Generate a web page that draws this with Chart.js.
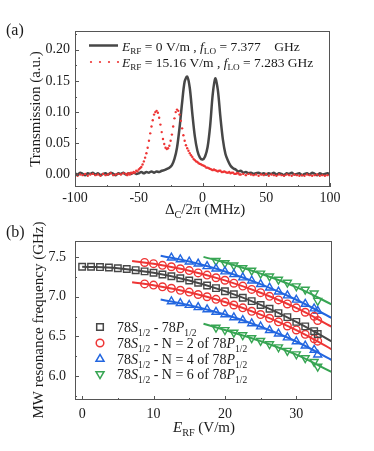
<!DOCTYPE html>
<html>
<head>
<meta charset="utf-8">
<script src="https://cdn.jsdelivr.net/npm/chart.js@4.4.1/dist/chart.umd.min.js"></script>
<style>
  html, body { margin: 0; padding: 0; background: #fff; }
  #wrap { position: relative; width: 374px; height: 451px; overflow: hidden; }
  #chartA { position: absolute; left: 0; top: 0; }
  #chartB { position: absolute; left: 0; top: 220px; }
</style>
</head>
<body>
<div id="wrap">
  <canvas id="chartA" width="374" height="220"></canvas>
  <canvas id="chartB" width="374" height="231"></canvas>
</div>
<script>
// ---- panel (a): transmission spectra ----
const detuning = [
  -100, -98, -96, -94, -92, -90, -88, -86, -84, -82,
  -80, -78, -76, -74, -72, -70, -68, -66, -64, -62,
  -60, -58, -56, -54, -52, -50, -48, -46, -44, -42,
  -40, -38, -36, -34, -32, -30, -28, -26, -24, -22,
  -20, -18, -16, -14, -12, -10, -8, -6, -4, -2,
  0, 2, 4, 6, 8, 10, 12, 14, 16, 18,
  20, 22, 24, 26, 28, 30, 32, 34, 36, 38,
  40, 42, 44, 46, 48, 50, 52, 54, 56, 58,
  60, 62, 64, 66, 68, 70, 72, 74, 76, 78,
  80, 82, 84, 86, 88, 90, 92, 94, 96, 98,
  100
];
// E_RF = 0 V/m, f_LO = 7.377 GHz
const transZeroField = [
  0.002, 0.000, 0.003, 0.001, -0.001, 0.002, 0.001, 0.003, 0.000, 0.002,
  -0.001, 0.001, 0.002, 0.000, 0.003, 0.001, -0.001, 0.002, 0.001, 0.003,
  0.000, 0.002, 0.001, 0.003, 0.001, 0.002, 0.004, 0.002, 0.004, 0.003,
  0.005, 0.003, 0.005, 0.004, 0.006, 0.007, 0.009, 0.011, 0.015, 0.025,
  0.043, 0.075, 0.115, 0.149, 0.157, 0.139, 0.098, 0.061, 0.038, 0.027,
  0.024, 0.029, 0.044, 0.078, 0.128, 0.154, 0.136, 0.093, 0.056, 0.033,
  0.022, 0.014, 0.010, 0.008, 0.005, 0.006, 0.003, 0.004, 0.002, 0.003,
  0.001, 0.002, 0.003, 0.001, 0.002, 0.000, 0.002, 0.001, 0.003, 0.000,
  0.002, 0.001, -0.001, 0.002, 0.001, 0.003, 0.000, 0.001, 0.002, -0.001,
  0.001, 0.002, 0.000, 0.003, 0.001, -0.001, 0.002, 0.000, 0.001, 0.002,
  0.000
];
// E_RF = 15.16 V/m, f_LO = 7.283 GHz (sampled more finely across the peaks)
const detuningRed = [
  -100, -98, -96, -94, -92, -90, -88, -86, -84, -82,
  -80, -78, -76, -74, -72, -70, -68, -66, -64, -62,
  -60, -59, -58, -57, -56, -55, -54, -53, -52, -51,
  -50, -49, -48, -47, -46, -45, -44, -43, -42, -41,
  -40, -39, -38, -37, -36, -35, -34, -33, -32, -31,
  -30, -29, -28, -27, -26, -25, -24, -23, -22, -21,
  -20, -19, -18, -17, -16, -15, -14, -13, -12, -11,
  -10, -9, -8, -7, -6, -5, -4, -3, -2, -1,
  0, 1, 2, 3, 4, 5, 6, 7, 8, 9,
  10, 11, 12, 13, 14, 15, 16, 17, 18, 19,
  20, 21, 22, 23, 24, 25, 26, 27, 28, 29, 30,
  32, 34, 36, 38, 40, 42, 44, 46, 48, 50,
  52, 54, 56, 58, 60, 62, 64, 66, 68, 70,
  72, 74, 76, 78, 80, 82, 84, 86, 88, 90,
  92, 94, 96, 98, 100
];
const transWithField = [
  0.001, -0.002, 0.000, -0.001, 0.001, -0.002, 0.000, 0.001, -0.001, 0.000,
  -0.002, 0.001, -0.001, 0.000, 0.002, -0.001, 0.000, 0.001, 0.000, 0.002,
  0.001, -0.001, 0.002, 0.000, 0.003, 0.002, 0.004, 0.003, 0.006, 0.005,
  0.008, 0.010, 0.012, 0.016, 0.021, 0.027, 0.034, 0.043, 0.054, 0.066,
  0.077, 0.087, 0.096, 0.100, 0.102, 0.099, 0.091, 0.080, 0.068, 0.057,
  0.049, 0.043, 0.041, 0.042, 0.046, 0.054, 0.064, 0.077, 0.090, 0.100,
  0.104, 0.102, 0.096, 0.086, 0.074, 0.063, 0.054, 0.047, 0.042, 0.038,
  0.034, 0.031, 0.028, 0.025, 0.023, 0.021, 0.020, 0.018, 0.017, 0.016,
  0.015, 0.014, 0.013, 0.011, 0.011, 0.010, 0.009, 0.008, 0.007, 0.008,
  0.007, 0.006, 0.005, 0.006, 0.006, 0.004, 0.004, 0.005, 0.004, 0.003,
  0.003, 0.004, 0.002, 0.003, 0.003, 0.001, 0.001, 0.002, 0.002, 0.000, 0.000,
  0.001, -0.001, 0.001, 0.000, -0.001, 0.000, -0.002, 0.000, -0.001, 0.001,
  -0.002, 0.000, -0.001, -0.002, 0.000, -0.001, -0.002, 0.000, -0.001, -0.002,
  0.000, -0.001, -0.002, -0.001, -0.002, 0.000, -0.001, -0.002, -0.001, 0.000,
  -0.002, -0.001, -0.002, -0.001, -0.002
];
const detuningTicks = [-100, -50, 0, 50, 100];
const transTicks = [0, 0.05, 0.10, 0.15, 0.20];

// ---- panel (b): MW resonance frequency vs E_RF ----
const fieldE = [0, 1.25, 2.5, 3.75, 5, 6.25, 7.5, 8.75, 10, 11.25, 12.5, 13.75, 15, 16.25,
  17.5, 18.75, 20, 21.25, 22.5, 23.75, 25, 26.25, 27.5, 28.75, 30, 31.25, 32.5, 33.0];
const freqPair = [7.377, 7.376, 7.372, 7.366, 7.357, 7.347, 7.333, 7.318, 7.301, 7.279, 7.257, 7.232, 7.203, 7.174,
  7.140, 7.107, 7.068, 7.030, 6.986, 6.944, 6.895, 6.847, 6.793, 6.742, 6.683, 6.626, 6.566, 6.530];
const freqN2Upper = [null, null, null, null, null, null, null, 7.430, 7.415, 7.394, 7.376, 7.351, 7.328, 7.299,
  7.271, 7.238, 7.206, 7.169, 7.133, 7.091, 7.050, 7.004, 6.959, 6.908, 6.859, 6.804, 6.752, 6.700];
const freqN2Lower = [null, null, null, null, null, null, null, 7.160, 7.145, 7.124, 7.105, 7.080, 7.057, 7.027,
  6.999, 6.966, 6.933, 6.895, 6.859, 6.816, 6.775, 6.728, 6.683, 6.631, 6.581, 6.526, 6.471, 6.440];
const freqN4Upper = [null, null, null, null, null, null, null, null, null, null, 7.490, 7.468, 7.440, 7.414,
  7.382, 7.352, 7.316, 7.281, 7.240, 7.201, 7.156, 7.112, 7.062, 7.014, 6.960, 6.908, 6.850, 6.820];
const freqN4Lower = [null, null, null, null, null, null, null, null, null, null, 6.940, 6.917, 6.894, 6.866,
  6.839, 6.807, 6.776, 6.739, 6.704, 6.663, 6.623, 6.578, 6.534, 6.485, 6.437, 6.383, 6.330, 6.270];
const freqN6Upper = [null, null, null, null, null, null, null, null, null, null, null, null, null, null,
  null, 7.451, 7.422, 7.394, 7.360, 7.329, 7.292, 7.256, 7.215, 7.177, 7.132, 7.090, 7.042, 6.950];
const freqN6Lower = [null, null, null, null, null, null, null, null, null, null, null, null, null, null,
  null, 6.611, 6.582, 6.549, 6.517, 6.480, 6.445, 6.404, 6.365, 6.320, 6.277, 6.228, 6.181, 6.120];

// fitted curves
const fitPairE = [0, 5, 10, 15, 20, 25, 30, 35];
const fitPair = [7.377, 7.358, 7.300, 7.204, 7.069, 6.896, 6.684, 6.434];
const fitN2E = [7, 10, 15, 20, 25, 30, 35];
const fitN2Upper = [7.449, 7.414, 7.327, 7.205, 7.049, 6.858, 6.620];
const fitN2Lower = [7.180, 7.144, 7.056, 6.932, 6.774, 6.580, 6.335];
const fitN4E = [11, 15, 20, 25, 30, 35];
const fitN4Upper = [7.515, 7.441, 7.317, 7.157, 6.961, 6.730];
const fitN4Lower = [6.964, 6.893, 6.775, 6.622, 6.436, 6.200];
const fitN6E = [17, 20, 25, 30, 35];
const fitN6Upper = [7.50, 7.43, 7.29, 7.12, 6.90];
const fitN6Lower = [6.66, 6.58, 6.44, 6.27, 6.05];

const fieldTicks = [0, 10, 20, 30];
const freqTicks = [6.0, 6.5, 7.0, 7.5];

// colours
const GREY = '#474747';
const RED = '#ee3535';
const BLUE = '#2266e0';
const GREEN = '#37a553';
const SERIF = '"Liberation Serif", "Times New Roman", serif';
const TEXT = '#1a1a1a';

function pairs(xs, ys) {
  const out = [];
  xs.forEach((x, i) => { if (ys[i] !== null) out.push({ x: x, y: ys[i] }); });
  return out;
}

// rich text with italics and subscripts; y is the baseline
function richWidth(ctx, parts, size) {
  let w = 0;
  parts.forEach(p => {
    ctx.font = (p.it ? 'italic ' : '') + (p.sub ? size * 0.68 : size) + 'px ' + SERIF;
    w += ctx.measureText(p.t).width;
  });
  return w;
}
function drawRich(ctx, parts, x, y, size, align) {
  let cx = align === 'center' ? x - richWidth(ctx, parts, size) / 2 : x;
  ctx.textAlign = 'left';
  ctx.textBaseline = 'alphabetic';
  ctx.fillStyle = TEXT;
  parts.forEach(p => {
    ctx.font = (p.it ? 'italic ' : '') + (p.sub ? size * 0.68 : size) + 'px ' + SERIF;
    ctx.fillText(p.t, cx, y + (p.sub ? size * 0.28 : 0));
    cx += ctx.measureText(p.t).width;
  });
}

function drawFrameAndTicks(chart, xMajor, xMinor, yMajor, yMinor) {
  const ctx = chart.ctx;
  const a = chart.chartArea;
  const sx = chart.scales.x, sy = chart.scales.y;
  ctx.save();
  ctx.strokeStyle = '#555';
  ctx.lineWidth = 1;
  ctx.strokeRect(a.left + 0.5, a.top + 0.5, a.right - a.left - 1, a.bottom - a.top - 1);
  ctx.beginPath();
  xMajor.forEach(v => { const px = Math.round(sx.getPixelForValue(v)) + 0.5; ctx.moveTo(px, a.bottom); ctx.lineTo(px, a.bottom - 4); });
  xMinor.forEach(v => { const px = Math.round(sx.getPixelForValue(v)) + 0.5; ctx.moveTo(px, a.bottom); ctx.lineTo(px, a.bottom - 2); });
  yMajor.forEach(v => { const py = Math.round(sy.getPixelForValue(v)) + 0.5; ctx.moveTo(a.left, py); ctx.lineTo(a.left + 4, py); });
  yMinor.forEach(v => { const py = Math.round(sy.getPixelForValue(v)) + 0.5; ctx.moveTo(a.left, py); ctx.lineTo(a.left + 2, py); });
  ctx.stroke();
  ctx.restore();
}

const panelA = {
  id: 'panelA',
  afterDraw(chart) {
    const ctx = chart.ctx;
    drawFrameAndTicks(chart, detuningTicks, [-75, -25, 25, 75], transTicks, [0.025, 0.075, 0.125, 0.175, 0.225]);
    ctx.save();
    // legend
    ctx.strokeStyle = GREY;
    ctx.lineWidth = 2.5;
    ctx.beginPath(); ctx.moveTo(89, 45.5); ctx.lineTo(118, 45.5); ctx.stroke();
    ctx.fillStyle = RED;
    [91, 100, 109, 118].forEach(x => { ctx.beginPath(); ctx.arc(x, 62, 1.1, 0, Math.PI * 2); ctx.fill(); });
    drawRich(ctx, [{ t: 'E', it: true }, { t: 'RF', sub: true }, { t: ' = 0 V/m , ' }, { t: 'f', it: true },
      { t: 'LO', sub: true }, { t: ' = 7.377    GHz' }], 122, 50.5, 13.5);
    drawRich(ctx, [{ t: 'E', it: true }, { t: 'RF', sub: true }, { t: ' = 15.16 V/m , ' }, { t: 'f', it: true },
      { t: 'LO', sub: true }, { t: ' = 7.283 GHz' }], 122, 66.5, 13.5);
    // axis titles
    drawRich(ctx, [{ t: '\u0394' }, { t: 'C', sub: true }, { t: '/2\u03c0 (MHz)' }], 205, 214, 15, 'center');
    ctx.translate(35, 109);
    ctx.rotate(-Math.PI / 2);
    drawRich(ctx, [{ t: 'Transmission (a.u.)' }], 0, 5, 15, 'center');
    ctx.restore();
    ctx.save();
    drawRich(ctx, [{ t: '(a)' }], 6, 35, 16);
    ctx.restore();
  }
};

const panelB = {
  id: 'panelB',
  afterDraw(chart) {
    const ctx = chart.ctx;
    drawFrameAndTicks(chart, fieldTicks, [5, 15, 25], freqTicks, [5.75, 6.25, 6.75, 7.25]);
    ctx.save();
    // legend
    const rows = [
      { y: 107, color: GREY, shape: 'square', label: [{ t: '78' }, { t: 'S', it: true }, { t: '1/2', sub: true }, { t: ' - 78' }, { t: 'P', it: true }, { t: '1/2', sub: true }] },
      { y: 123, color: RED, shape: 'circle', label: [{ t: '78' }, { t: 'S', it: true }, { t: '1/2', sub: true }, { t: ' - N = 2 of 78' }, { t: 'P', it: true }, { t: '1/2', sub: true }] },
      { y: 139, color: BLUE, shape: 'up', label: [{ t: '78' }, { t: 'S', it: true }, { t: '1/2', sub: true }, { t: ' - N = 4 of 78' }, { t: 'P', it: true }, { t: '1/2', sub: true }] },
      { y: 154, color: GREEN, shape: 'down', label: [{ t: '78' }, { t: 'S', it: true }, { t: '1/2', sub: true }, { t: ' - N = 6 of 78' }, { t: 'P', it: true }, { t: '1/2', sub: true }] }
    ];
    rows.forEach(r => {
      ctx.strokeStyle = r.color;
      ctx.lineWidth = 1.5;
      ctx.beginPath();
      const x = 100, y = r.y;
      if (r.shape === 'square') ctx.rect(x - 3.3, y - 3.3, 6.6, 6.6);
      if (r.shape === 'circle') ctx.arc(x, y, 3.8, 0, Math.PI * 2);
      if (r.shape === 'up') { ctx.moveTo(x, y - 4.6); ctx.lineTo(x + 4, y + 2.3); ctx.lineTo(x - 4, y + 2.3); ctx.closePath(); }
      if (r.shape === 'down') { ctx.moveTo(x, y + 4.6); ctx.lineTo(x + 4, y - 2.3); ctx.lineTo(x - 4, y - 2.3); ctx.closePath(); }
      ctx.stroke();
      drawRich(ctx, r.label, 117, y + 5, 14);
    });
    drawRich(ctx, [{ t: 'E', it: true }, { t: 'RF', sub: true }, { t: ' (V/m)' }], 204, 212, 15, 'center');
    ctx.translate(38, 100);
    ctx.rotate(-Math.PI / 2);
    drawRich(ctx, [{ t: 'MW resonance frequency (GHz)' }], 0, 5, 15, 'center');
    ctx.restore();
    ctx.save();
    drawRich(ctx, [{ t: '(b)' }], 6, 17, 16);
    ctx.restore();
  }
};

function axisTicks(values, fmt, pad) {
  return {
    afterBuildTicks: s => { s.ticks = values.map(v => ({ value: v })); },
    ticks: { autoSkip: false, maxRotation: 0, padding: pad, color: TEXT,
      font: { family: SERIF, size: 14 }, callback: v => fmt(v) },
    grid: { display: false, drawTicks: false },
    border: { display: false }
  };
}

new Chart(document.getElementById('chartA'), {
  type: 'scatter',
  data: {
    datasets: [
      { label: 'E=15.16', data: pairs(detuningRed, transWithField), showLine: false,
        pointRadius: 1.2, pointBorderWidth: 0, pointBackgroundColor: RED, order: 0 },
      { label: 'E=0', data: pairs(detuning, transZeroField), showLine: true, borderColor: GREY,
        borderWidth: 2.5, pointRadius: 0, tension: 0.3, order: 1 }
    ]
  },
  options: {
    responsive: false,
    animation: false,
    layout: { padding: { top: 31, right: 44, left: 0, bottom: 0 } },
    plugins: { legend: { display: false }, tooltip: { enabled: false } },
    scales: {
      x: Object.assign({ type: 'linear', min: -100, max: 100, afterFit: s => { s.height = 33; } },
        axisTicks(detuningTicks, v => String(v), 3)),
      y: Object.assign({ type: 'linear', min: -0.02, max: 0.23, afterFit: s => { s.width = 75; } },
        axisTicks(transTicks, v => v.toFixed(2), 5))
    }
  },
  plugins: [panelA]
});

function markerSet(label, xs, ys, color, style, rotation, radius) {
  return { label: label, data: pairs(xs, ys), showLine: false, pointStyle: style, pointRotation: rotation,
    pointRadius: radius, pointBorderWidth: 1.4, pointBorderColor: color, pointBackgroundColor: 'rgba(0,0,0,0)', order: 0 };
}
function fitSet(xs, ys, color) {
  return { data: pairs(xs, ys), showLine: true, borderColor: color, borderWidth: 2, pointRadius: 0,
    tension: 0.4, order: 1 };
}

new Chart(document.getElementById('chartB'), {
  type: 'scatter',
  data: {
    datasets: [
      fitSet(fitPairE, fitPair, GREY),
      fitSet(fitN2E, fitN2Upper, RED),
      fitSet(fitN2E, fitN2Lower, RED),
      fitSet(fitN4E, fitN4Upper, BLUE),
      fitSet(fitN4E, fitN4Lower, BLUE),
      fitSet(fitN6E, fitN6Upper, GREEN),
      fitSet(fitN6E, fitN6Lower, GREEN),
      markerSet('pair', fieldE, freqPair, GREY, 'rect', 0, 4.6),
      markerSet('N2 up', fieldE, freqN2Upper, RED, 'circle', 0, 3.8),
      markerSet('N2 low', fieldE, freqN2Lower, RED, 'circle', 0, 3.8),
      markerSet('N4 up', fieldE, freqN4Upper, BLUE, 'triangle', 0, 4.6),
      markerSet('N4 low', fieldE, freqN4Lower, BLUE, 'triangle', 0, 4.6),
      markerSet('N6 up', fieldE, freqN6Upper, GREEN, 'triangle', 180, 4.6),
      markerSet('N6 low', fieldE, freqN6Lower, GREEN, 'triangle', 180, 4.6)
    ]
  },
  options: {
    responsive: false,
    animation: false,
    layout: { padding: { top: 21, right: 42, left: 0, bottom: 0 } },
    plugins: { legend: { display: false }, tooltip: { enabled: false } },
    scales: {
      x: Object.assign({ type: 'linear', min: -1, max: 35, afterFit: s => { s.height = 51; } },
        axisTicks(fieldTicks, v => String(v), 6)),
      y: Object.assign({ type: 'linear', min: 5.7, max: 7.7, afterFit: s => { s.width = 75; } },
        axisTicks(freqTicks, v => v.toFixed(1), 9))
    }
  },
  plugins: [panelB]
});
</script>
</body>
</html>
